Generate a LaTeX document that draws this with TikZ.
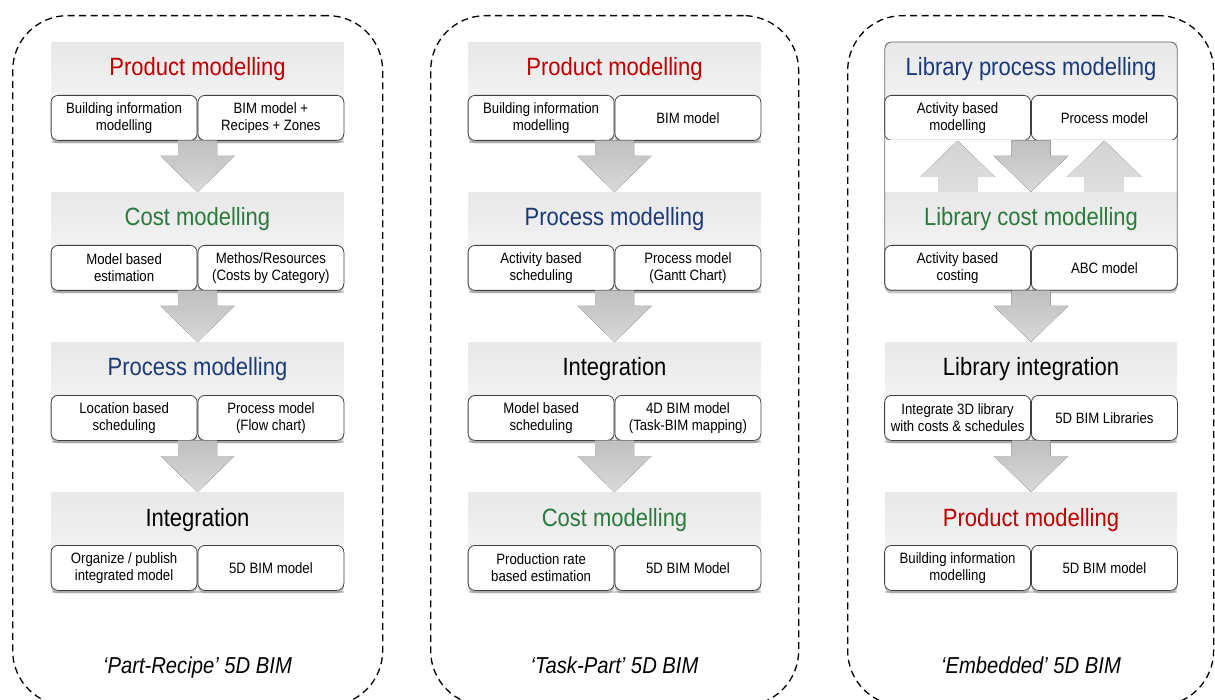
\documentclass[tikz,border=0pt]{standalone}
\usepackage{fontspec}
\setmainfont{Liberation Sans}[FakeStretch=0.88]
\usetikzlibrary{shadows,calc}
\definecolor{prodred}{HTML}{C00000}
\definecolor{costgreen}{HTML}{2A7A3B}
\definecolor{procblue}{HTML}{1B3A78}
\tikzset{
  panel/.style={draw=black, dash pattern=on 7pt off 4.5pt, line width=1.3pt,
    rounded corners=55pt, minimum width=370pt, minimum height=690pt, anchor=north west, inner sep=0pt},
  hdrplain/.style={rectangle, inner sep=0pt, minimum width=292pt, minimum height=98pt,
    top color=black!9, bottom color=black!2},
  hdr/.style={hdrplain, drop shadow={shadow xshift=0pt, shadow yshift=-3pt, opacity=0.35, fill=black!55}},
  ttl/.style={inner sep=0pt, font=\fontsize{25}{28}\selectfont},
  sub/.style={rectangle, draw=black!75, line width=0.8pt, fill=white, rounded corners=7pt,
    minimum width=146pt, minimum height=45pt, inner sep=1pt, align=center,
    font=\fontsize{15}{17}\selectfont},
  subsh/.style={sub, drop shadow={shadow xshift=0pt, shadow yshift=-3pt, opacity=0.4, fill=black!55}},
  downfill/.style={top color=black!25, bottom color=black!15},
  upfill/.style={top color=black!17, bottom color=black!13},
  frame/.style={draw=black!60, line width=0.8pt, rounded corners=7pt},
  lbl/.style={inner sep=0pt, font=\fontsize{23}{27}\selectfont\itshape},
}
% #1 id, #2 cx, #3 ytop, #4 colour, #5 title, #6 left, #7 right, #8 header style, #9 sub style
\newcommand\mkrow[9]{%
  \node[#8, anchor=north] (#1) at (#2,#3) {};
  \node[ttl, text=#4, anchor=base] (#1t) at (#2,#3+34) {#5};
  \node[#9, anchor=north east] (#1l) at (#2,#3+53) {#6};
  \node[#9, anchor=north west] (#1r) at (#2,#3+53) {#7};
}
% #1 style, #2 base, #3 tip, #4 direction (1 down, -1 up)
\newcommand\blockarrow[4]{%
  \fill[#1] ([xshift=-19.5pt]#2) -- ([xshift=19.5pt]#2)
    -- ($(#3)+(19.5,-36*#4)$) -- ($(#3)+(37,-36*#4)$) -- (#3)
    -- ($(#3)+(-37,-36*#4)$) -- ($(#3)+(-19.5,-36*#4)$) -- cycle;
}
\begin{document}
\begin{tikzpicture}[x=1pt,y=-1pt]
\useasboundingbox (0,0) rectangle (1215,700);
\clip (0,0) rectangle (1215,700);
\node[panel] (p1) at (12,15) {};
\node[panel, minimum width=368pt] (p2) at (430,15) {};
\node[panel, minimum width=366pt] (p3) at (847,15) {};

% Panel 1
\mkrow{A1}{197.5}{42}{prodred}{Product modelling}{Building information\\modelling}{BIM model +\\Recipes + Zones}{hdr}{subsh}
\mkrow{A2}{197.5}{192}{costgreen}{Cost modelling}{Model based\\estimation}{Methos/Resources\\(Costs by Category)}{hdr}{subsh}
\mkrow{A3}{197.5}{342}{procblue}{Process modelling}{Location based\\scheduling}{Process model\\(Flow chart)}{hdr}{subsh}
\mkrow{A4}{197.5}{492}{black}{Integration}{Organize / publish\\integrated model}{5D BIM model}{hdr}{subsh}
\blockarrow{downfill}{A1.south}{A2.north}{1}
\blockarrow{downfill}{A2.south}{A3.north}{1}
\blockarrow{downfill}{A3.south}{A4.north}{1}
\node[lbl, anchor=base] (l1) at (197.5,673) {‘Part-Recipe’ 5D BIM};

% Panel 2
\mkrow{B1}{614.5}{42}{prodred}{Product modelling}{Building information\\modelling}{BIM model}{hdr}{subsh}
\mkrow{B2}{614.5}{192}{procblue}{Process modelling}{Activity based\\scheduling}{Process model\\(Gantt Chart)}{hdr}{subsh}
\mkrow{B3}{614.5}{342}{black}{Integration}{Model based\\scheduling}{4D BIM model\\(Task-BIM mapping)}{hdr}{subsh}
\mkrow{B4}{614.5}{492}{costgreen}{Cost modelling}{Production rate\\based estimation}{5D BIM Model}{hdr}{subsh}
\blockarrow{downfill}{B1.south}{B2.north}{1}
\blockarrow{downfill}{B2.south}{B3.north}{1}
\blockarrow{downfill}{B3.south}{B4.north}{1}
\node[lbl, anchor=base] (l2) at (614.5,673) {‘Task-Part’ 5D BIM};

% Panel 3
\mkrow{C1}{1031}{42}{procblue}{Library process modelling}{Activity based\\modelling}{Process model}{hdrplain}{sub}
\node[fill=white, inner sep=0pt, minimum width=292pt, minimum height=52pt, anchor=north] (C1gap) at (1031,140) {};
\mkrow{C2}{1031}{192}{costgreen}{Library cost modelling}{Activity based\\costing}{ABC model}{hdrplain}{subsh}
\draw[frame] (C1.north west) rectangle (C2.south east);
\blockarrow{upfill}{C1l.south |- C2.north}{C1l.south}{-1}
\blockarrow{upfill}{C1r.south |- C2.north}{C1r.south}{-1}
\blockarrow{downfill}{C1.south}{C2.north}{1}
\mkrow{C3}{1031}{342}{black}{Library integration}{Integrate 3D library\\with costs \& schedules}{5D BIM Libraries}{hdr}{subsh}
\mkrow{C4}{1031}{492}{prodred}{Product modelling}{Building information\\modelling}{5D BIM model}{hdr}{subsh}
\blockarrow{downfill}{C2.south}{C3.north}{1}
\blockarrow{downfill}{C3.south}{C4.north}{1}
\node[lbl, anchor=base] (l3) at (1031,673) {‘Embedded’ 5D BIM};
\end{tikzpicture}
\end{document}
